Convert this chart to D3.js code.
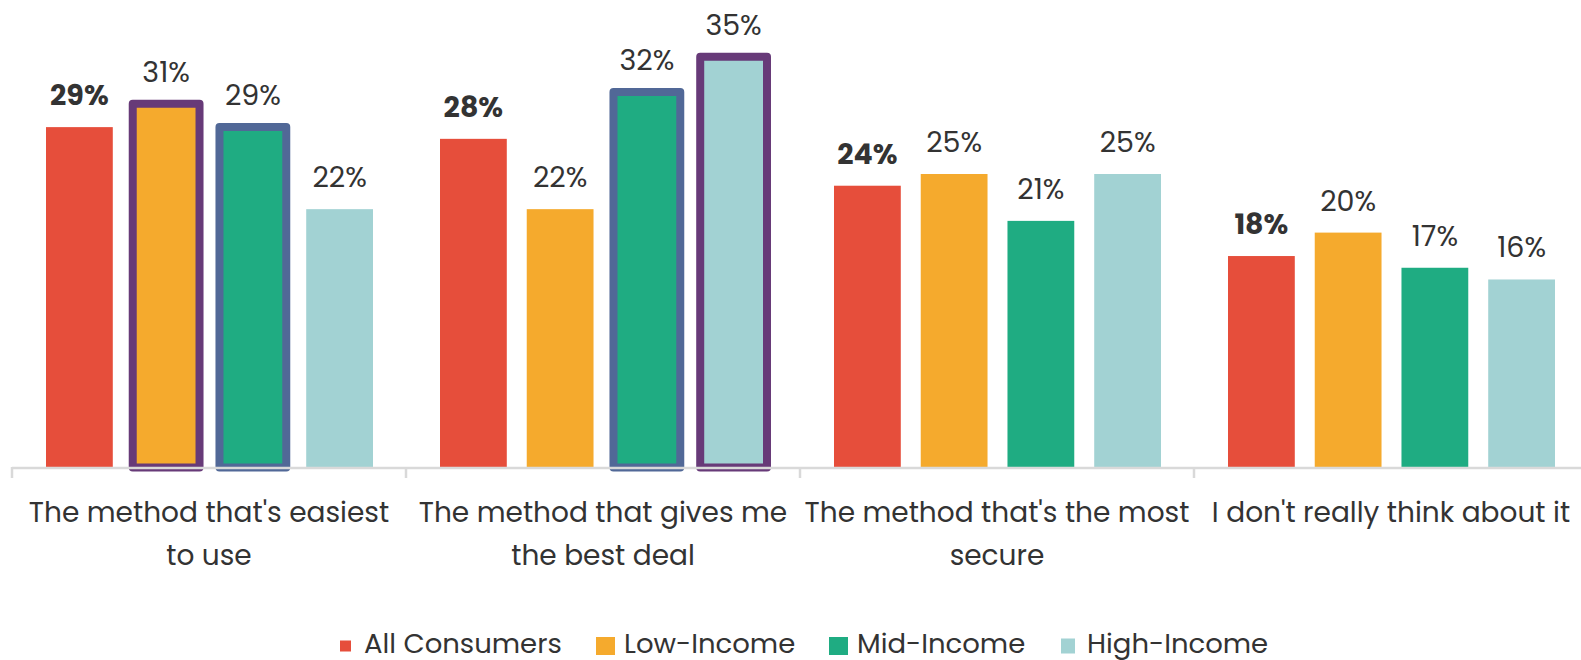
<!DOCTYPE html>
<html>
<head>
<meta charset="utf-8">
<script src="https://cdn.jsdelivr.net/npm/d3@7"></script>
<style>
  html, body { margin: 0; padding: 0; background: #ffffff; }
  svg { display: block; font-family: Poppins, "Open Sans", sans-serif; }
</style>
</head>
<body>
<svg id="chart" width="1581" height="660"></svg>
<script>
// Survey answers: which payment method do people choose
const categories = [
  ["The method that's easiest", "to use"],
  ["The method that gives me", "the best deal"],
  ["The method that's the most", "secure"],
  ["I don't really think about it"]
];
const seriesNames = ["All Consumers", "Low-Income", "Mid-Income", "High-Income"];
const allConsumers = [29, 28, 24, 18];
const lowIncome    = [31, 22, 25, 20];
const midIncome    = [29, 32, 21, 17];
const highIncome   = [22, 35, 25, 16];
// Bars that carry an emphasis outline: [category index, series index, outline]
const highlights = [[0, 1, "purple"], [0, 2, "blue"], [1, 2, "blue"], [1, 3, "purple"]];

const seriesValues = [allConsumers, lowIncome, midIncome, highIncome];
const colors = ["#E64E3B", "#F5AA2D", "#1FAC82", "#A2D2D3"];
const outlineColors = { purple: "#673A78", blue: "#516897" };
const textColor = "#333333";

const svg = d3.select("#chart");
const baseY = 467;

const x0 = d3.scaleBand().domain(d3.range(categories.length)).range([12, 1588]).paddingInner(0).paddingOuter(0);
const x1 = d3.scaleBand().domain(d3.range(seriesNames.length)).range([34, 394 - 33]).paddingInner(0.23).paddingOuter(0);
const y = d3.scaleLinear().domain([0, 40]).range([baseY, -1.8]);

const rows = [];
categories.forEach((c, ci) => {
  seriesValues.forEach((vals, si) => {
    const h = highlights.find(d => d[0] === ci && d[1] === si);
    rows.push({ ci, si, v: vals[ci], outline: h ? outlineColors[h[2]] : null });
  });
});

const g = svg.append("g");
const groups = g.selectAll("g.cat").data(categories).join("g")
  .attr("class", "cat")
  .attr("transform", (d, i) => `translate(${x0(i)},0)`);

groups.each(function(c, ci) {
  const sel = d3.select(this);
  const data = rows.filter(r => r.ci === ci);
  sel.selectAll("rect.bar").data(data).join("rect")
    .attr("class", "bar")
    .attr("x", d => x1(d.si))
    .attr("width", x1.bandwidth())
    .attr("y", d => y(d.v))
    .attr("height", d => (d.outline ? baseY + 0.5 : baseY) - y(d.v))
    .attr("fill", d => colors[d.si])
    .attr("stroke", d => d.outline || "none")
    .attr("stroke-width", d => d.outline ? 8 : 0)
    .attr("stroke-linejoin", "round");

  sel.selectAll("text.val").data(data).join("text")
    .attr("class", "val")
    .attr("x", d => x1(d.si) + x1.bandwidth() / 2)
    .attr("y", d => y(d.v) - 22)
    .attr("text-anchor", "middle")
    .attr("font-size", 28.5)
    .attr("font-weight", d => d.si === 0 ? 700 : 400)
    .attr("fill", textColor)
    .text(d => d.v + "%");
});

// Category axis: baseline plus ticks between groups
const axis = svg.append("g");
axis.append("line")
  .attr("x1", x0.range()[0]).attr("x2", x0.range()[1])
  .attr("y1", baseY + 1).attr("y2", baseY + 1)
  .attr("stroke", "#d9d9d9").attr("stroke-width", 2.5);
axis.selectAll("line.tick").data(d3.range(categories.length)).join("line")
  .attr("class", "tick")
  .attr("x1", i => x0(i)).attr("x2", i => x0(i))
  .attr("y1", baseY).attr("y2", baseY + 11)
  .attr("stroke", "#d9d9d9").attr("stroke-width", 2.5);

axis.selectAll("text.cat").data(categories).join("text")
  .attr("class", "cat")
  .attr("text-anchor", "middle")
  .attr("font-size", 28)
  .attr("fill", textColor)
  .each(function(lines, i) {
    const t = d3.select(this);
    lines.forEach((ln, li) => {
      t.append("tspan")
        .attr("x", x0(i) + x0.bandwidth() / 2)
        .attr("y", 522 + li * 43)
        .text(ln);
    });
  });

// Legend
const legendItems = [
  { x: 340, w: 11, h: 11, tx: 364 },
  { x: 596, w: 19, h: 18, tx: 624 },
  { x: 829, w: 19, h: 18, tx: 857 },
  { x: 1061, w: 14, h: 15, tx: 1087 }
];
const legend = svg.append("g");
legend.selectAll("rect").data(legendItems).join("rect")
  .attr("x", d => d.x).attr("y", d => 646 - d.h / 2)
  .attr("width", d => d.w).attr("height", d => d.h)
  .attr("fill", (d, i) => colors[i]);
legend.selectAll("text").data(legendItems).join("text")
  .attr("x", d => d.tx).attr("y", 653)
  .attr("font-size", 27.5)
  .attr("fill", textColor)
  .text((d, i) => seriesNames[i]);
</script>
</body>
</html>
